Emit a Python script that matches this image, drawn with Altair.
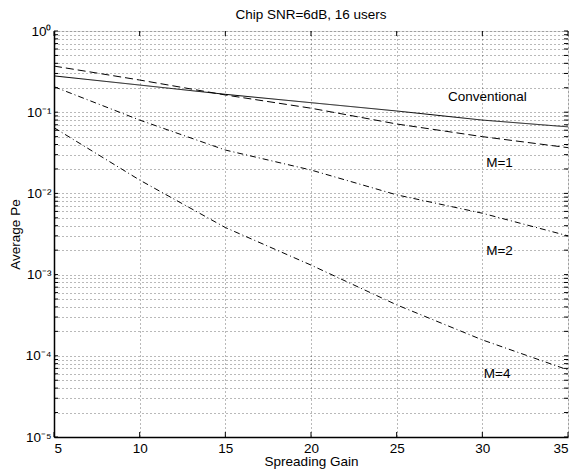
import altair as alt
import pandas as pd

# ---- data ----
gain = [5, 10, 15, 20, 25, 30, 35]
pe_conventional = [0.28, 0.216, 0.166, 0.131, 0.1035, 0.080, 0.066]
pe_m1 = [0.37, 0.249, 0.163, 0.112, 0.0716, 0.050, 0.0366]
pe_m2 = [0.206, 0.080, 0.0342, 0.0194, 0.0096, 0.0057, 0.0030]
pe_m4 = [0.0645, 0.0146, 0.0038, 0.00131, 0.000424, 0.000157, 0.000067]

series_names = ["Conventional", "M=1", "M=2", "M=4"]
series_values = [pe_conventional, pe_m1, pe_m2, pe_m4]

label_text = ["Conventional", "M=1", "M=2", "M=4"]
label_x = [30.3, 31.0, 31.0, 30.86]
label_y = [0.155, 0.0237, 0.00197, 0.0000597]

x_ticks = [5, 10, 15, 20, 25, 30, 35]
decades = [1e-5, 1e-4, 1e-3, 1e-2, 1e-1, 1e0]
decade_labels = ["10⁻⁵", "10⁻⁴", "10⁻³", "10⁻²", "10⁻¹", "10⁰"]
y_grid = sorted(set([round(d * m, 12) for d in decades[:-1] for m in range(1, 10)] + [1.0]))

rows = []
for name, vals in zip(series_names, series_values):
    for g, v in zip(gain, vals):
        rows.append({"gain": g, "pe": v, "series": name})
df = pd.DataFrame(rows)
labels_df = pd.DataFrame({"text": label_text, "gain": label_x, "pe": label_y})
xt_df = pd.DataFrame({"gain": x_ticks})
yt_df = pd.DataFrame({"pe": y_grid})

FONT = "Liberation Sans"
FS = 13.5
W, H = 514, 406

label_expr = "".join(
    f"abs(datum.value - {d}) < {d * 1e-6} ? '{t}' : " for d, t in zip(decades, decade_labels)
) + "''"

x_scale = alt.Scale(domain=[5, 35], nice=False, zero=False)
y_scale = alt.Scale(type="log", domain=[1e-5, 1], nice=False)

lines = alt.Chart(df).mark_line(strokeWidth=1, clip=True).encode(
    x=alt.X("gain:Q", scale=x_scale,
            axis=alt.Axis(title="Spreading Gain", values=x_ticks, format="d",
                          grid=True, gridDash=[1, 3], gridColor="#000", gridOpacity=0.55,
                          tickSize=0, labelPadding=4, titlePadding=0,
                          labelFont=FONT, titleFont=FONT, labelFontSize=FS,
                          titleFontSize=FS, titleFontWeight="normal",
                          labelColor="#000", titleColor="#000",
                          domainColor="#000", domainWidth=1.5)),
    y=alt.Y("pe:Q", scale=y_scale,
            axis=alt.Axis(title="Average Pe", values=y_grid, labelExpr=label_expr,
                          grid=True, gridDash=[1, 3], gridColor="#000", gridOpacity=0.55,
                          tickSize=0, labelPadding=3, titlePadding=3,
                          labelFont=FONT, titleFont=FONT, labelFontSize=FS,
                          titleFontSize=FS, titleFontWeight="normal",
                          labelColor="#000", titleColor="#000",
                          labelOverlap=False,
                          domainColor="#000", domainWidth=1.5)),
    strokeDash=alt.StrokeDash("series:N",
                              scale=alt.Scale(domain=series_names,
                                              range=[[1, 0], [8, 4], [6, 3, 1, 3], [6, 3, 1, 3]]),
                              legend=None),
    color=alt.value("#000"),
    detail="series:N",
)

texts = alt.Chart(labels_df).mark_text(font=FONT, fontSize=FS, color="#000", align="center",
                                       baseline="middle").encode(
    x=alt.X("gain:Q", scale=x_scale),
    y=alt.Y("pe:Q", scale=y_scale),
    text="text:N",
)

# inner tick marks (MATLAB style)
xt_bottom = alt.Chart(xt_df).mark_rule(color="#000", strokeWidth=1).encode(
    x=alt.X("gain:Q", scale=x_scale), y=alt.value(H - 5), y2=alt.value(H))
xt_top = alt.Chart(xt_df).mark_rule(color="#000", strokeWidth=1).encode(
    x=alt.X("gain:Q", scale=x_scale), y=alt.value(0), y2=alt.value(5))
yt_left = alt.Chart(yt_df).mark_rule(color="#000", strokeWidth=1).encode(
    y=alt.Y("pe:Q", scale=y_scale), x=alt.value(0), x2=alt.value(4))
yt_right = alt.Chart(yt_df).mark_rule(color="#000", strokeWidth=1).encode(
    y=alt.Y("pe:Q", scale=y_scale), x=alt.value(W - 4), x2=alt.value(W))

chart = alt.layer(lines, texts, xt_bottom, xt_top, yt_left, yt_right).properties(
    width=W, height=H,
    title=alt.TitleParams("Chip SNR=6dB, 16 users", font=FONT, fontSize=FS,
                          fontWeight="normal", color="#000", offset=3),
    autosize=alt.AutoSizeParams(type="none"),
    padding={"left": 46, "top": 23, "right": 1, "bottom": 32},
).configure_view(stroke="#000", strokeWidth=1.5).configure(background="#fff")

chart.save("out.html", embed_options={"renderer": "svg", "actions": False})
